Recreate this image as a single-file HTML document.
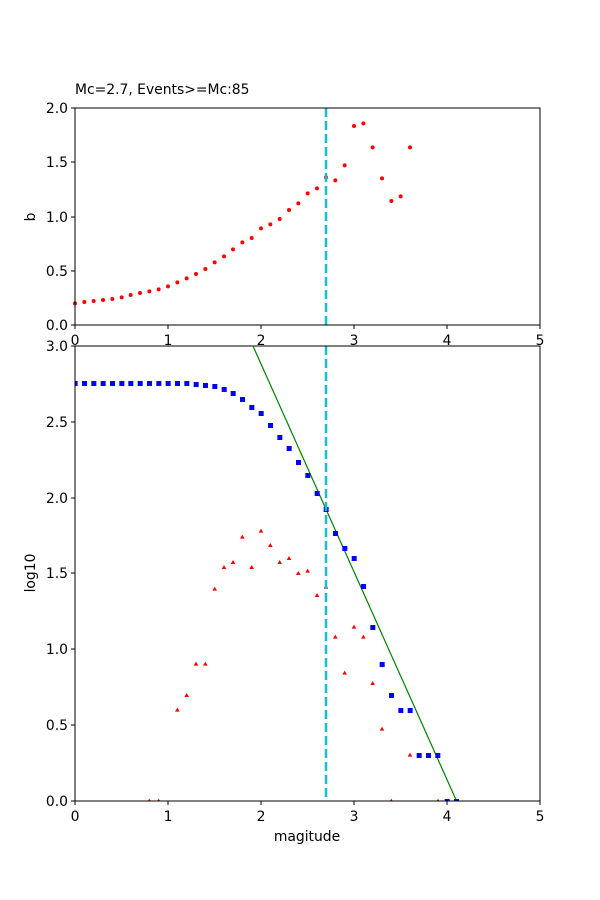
<!DOCTYPE html>
<html><head><style>body{margin:0;background:#fff}svg{display:block}text{font-family:"DejaVu Sans","Liberation Sans",sans-serif;font-size:13.9px;fill:#000}</style></head>
<body>
<svg width="600" height="900" xmlns="http://www.w3.org/2000/svg">
<text x="75" y="94">Mc=2.7, Events&gt;=Mc:85</text>
<g transform="translate(60,100) scale(0.333333)" fill="#f00">
<circle cx="45" cy="610" r="6"/><circle cx="73" cy="606" r="6"/><circle cx="101" cy="603" r="6"/><circle cx="129" cy="600" r="6"/><circle cx="157" cy="597" r="6"/><circle cx="185" cy="592" r="6"/><circle cx="212" cy="585" r="6"/><circle cx="240" cy="579" r="6"/><circle cx="268" cy="574" r="6"/><circle cx="296" cy="568" r="6"/><circle cx="324" cy="559" r="6"/><circle cx="352" cy="547" r="6"/><circle cx="380" cy="535" r="6"/><circle cx="408" cy="522" r="6"/><circle cx="436" cy="507" r="6"/><circle cx="464" cy="487" r="6"/><circle cx="492" cy="469" r="6"/><circle cx="519" cy="448" r="6"/><circle cx="547" cy="427" r="6"/><circle cx="575" cy="414" r="6"/><circle cx="603" cy="385" r="6"/><circle cx="631" cy="373" r="6"/><circle cx="659" cy="357" r="6"/><circle cx="687" cy="330" r="6"/><circle cx="715" cy="310" r="6"/><circle cx="743" cy="280" r="6"/><circle cx="771" cy="265" r="6"/><circle cx="798" cy="232" r="6"/><circle cx="826" cy="241" r="6"/><circle cx="854" cy="196" r="6"/><circle cx="882" cy="78" r="6"/><circle cx="910" cy="70" r="6"/><circle cx="938" cy="142" r="6"/><circle cx="966" cy="235" r="6"/><circle cx="994" cy="303" r="6"/><circle cx="1022" cy="289" r="6"/><circle cx="1050" cy="142" r="6"/>
</g>
<line x1="326" y1="108" x2="326" y2="325" stroke="#17becf" stroke-width="2.5" stroke-dasharray="9,4"/>
<rect x="75" y="108" width="465" height="217" fill="none" stroke="#000" stroke-width="1"/>
<g stroke="#000">
<line x1="75" y1="325" x2="75" y2="329"/><line x1="168" y1="325" x2="168" y2="329"/><line x1="261" y1="325" x2="261" y2="329"/><line x1="354" y1="325" x2="354" y2="329"/><line x1="447" y1="325" x2="447" y2="329"/><line x1="540" y1="325" x2="540" y2="329"/>
<line x1="71" y1="108" x2="75" y2="108"/><line x1="71" y1="162" x2="75" y2="162"/><line x1="71" y1="217" x2="75" y2="217"/><line x1="71" y1="271" x2="75" y2="271"/><line x1="71" y1="325" x2="75" y2="325"/>
</g>
<g text-anchor="middle"><text x="75" y="345">0</text><text x="168" y="345">1</text><text x="261" y="345">2</text><text x="354" y="345">3</text><text x="447" y="345">4</text><text x="540" y="345">5</text></g>
<g text-anchor="end"><text x="68" y="113">2.0</text><text x="68" y="167">1.5</text><text x="68" y="222">1.0</text><text x="68" y="276">0.5</text><text x="68" y="330">0.0</text></g>
<text transform="translate(35,217) rotate(-90)" text-anchor="middle">b</text>
<rect x="75" y="346" width="465" height="455" fill="#fff"/>
<clipPath id="c"><rect x="75" y="346" width="465" height="455"/></clipPath>
<g clip-path="url(#c)">
<line x1="253.3" y1="346.7" x2="456.7" y2="801.3" stroke="#008000" stroke-width="1.2"/>
<g transform="translate(60,340) scale(0.333333)" fill="#00f">
<rect x="38" y="123" width="15" height="15"/><rect x="66" y="123" width="15" height="15"/><rect x="94" y="123" width="15" height="15"/><rect x="122" y="123" width="15" height="15"/><rect x="150" y="123" width="15" height="15"/><rect x="178" y="123" width="15" height="15"/><rect x="205" y="123" width="15" height="15"/><rect x="233" y="123" width="15" height="15"/><rect x="261" y="123" width="15" height="15"/><rect x="289" y="123" width="15" height="15"/><rect x="317" y="123" width="15" height="15"/><rect x="345" y="123" width="15" height="15"/><rect x="373" y="123" width="15" height="15"/><rect x="401" y="126" width="15" height="15"/><rect x="429" y="129" width="15" height="15"/><rect x="457" y="132" width="15" height="15"/><rect x="485" y="141" width="15" height="15"/><rect x="512" y="153" width="15" height="15"/><rect x="540" y="171" width="15" height="15"/><rect x="568" y="195" width="15" height="15"/><rect x="596" y="213" width="15" height="15"/><rect x="624" y="249" width="15" height="15"/><rect x="652" y="285" width="15" height="15"/><rect x="680" y="318" width="15" height="15"/><rect x="708" y="360" width="15" height="15"/><rect x="736" y="399" width="15" height="15"/><rect x="764" y="453" width="15" height="15"/><rect x="791" y="501" width="15" height="15"/><rect x="819" y="573" width="15" height="15"/><rect x="847" y="618" width="15" height="15"/><rect x="875" y="648" width="15" height="15"/><rect x="903" y="732" width="15" height="15"/><rect x="931" y="855" width="15" height="15"/><rect x="959" y="966" width="15" height="15"/><rect x="987" y="1059" width="15" height="15"/><rect x="1015" y="1104" width="15" height="15"/><rect x="1043" y="1104" width="15" height="15"/><rect x="1070" y="1239" width="15" height="15"/><rect x="1098" y="1239" width="15" height="15"/><rect x="1126" y="1239" width="15" height="15"/><rect x="1154" y="1377" width="15" height="15"/><rect x="1182" y="1377" width="15" height="15"/>
</g>
<g transform="translate(60,340) scale(0.333333)" fill="#f00">
<path d="M268 1376l-7 12h14z"/><path d="M296 1376l-7 12h14z"/><path d="M352 1103l-7 12h14z"/><path d="M380 1059l-7 12h14z"/><path d="M408 965l-7 12h14z"/><path d="M436 965l-7 12h14z"/><path d="M464 740l-7 12h14z"/><path d="M492 675l-7 12h14z"/><path d="M519 660l-7 12h14z"/><path d="M547 584l-7 12h14z"/><path d="M575 675l-7 12h14z"/><path d="M603 566l-7 12h14z"/><path d="M631 609l-7 12h14z"/><path d="M659 660l-7 12h14z"/><path d="M687 648l-7 12h14z"/><path d="M715 693l-7 12h14z"/><path d="M743 686l-7 12h14z"/><path d="M771 759l-7 12h14z"/><path d="M798 734l-7 12h14z"/><path d="M826 884l-7 12h14z"/><path d="M854 992l-7 12h14z"/><path d="M882 854l-7 12h14z"/><path d="M910 884l-7 12h14z"/><path d="M938 1023l-7 12h14z"/><path d="M966 1160l-7 12h14z"/><path d="M994 1376l-7 12h14z"/><path d="M1050 1238l-7 12h14z"/><path d="M1134 1376l-7 12h14z"/>
</g>
</g>
<line x1="326" y1="346" x2="326" y2="801" stroke="#17becf" stroke-width="2.5" stroke-dasharray="9,4"/>
<rect x="75" y="346" width="465" height="455" fill="none" stroke="#000" stroke-width="1"/>
<g stroke="#000">
<line x1="75" y1="801" x2="75" y2="805"/><line x1="168" y1="801" x2="168" y2="805"/><line x1="261" y1="801" x2="261" y2="805"/><line x1="354" y1="801" x2="354" y2="805"/><line x1="447" y1="801" x2="447" y2="805"/><line x1="540" y1="801" x2="540" y2="805"/>
<line x1="71" y1="346" x2="75" y2="346"/><line x1="71" y1="422" x2="75" y2="422"/><line x1="71" y1="498" x2="75" y2="498"/><line x1="71" y1="573" x2="75" y2="573"/><line x1="71" y1="649" x2="75" y2="649"/><line x1="71" y1="725" x2="75" y2="725"/><line x1="71" y1="801" x2="75" y2="801"/>
</g>
<g text-anchor="middle"><text x="75" y="821">0</text><text x="168" y="821">1</text><text x="261" y="821">2</text><text x="354" y="821">3</text><text x="447" y="821">4</text><text x="540" y="821">5</text></g>
<g text-anchor="end"><text x="68" y="351">3.0</text><text x="68" y="427">2.5</text><text x="68" y="503">2.0</text><text x="68" y="578">1.5</text><text x="68" y="654">1.0</text><text x="68" y="730">0.5</text><text x="68" y="806">0.0</text></g>
<text x="307" y="841" text-anchor="middle">magitude</text>
<text transform="translate(35,573) rotate(-90)" text-anchor="middle">log10</text>
</svg>
</body></html>
